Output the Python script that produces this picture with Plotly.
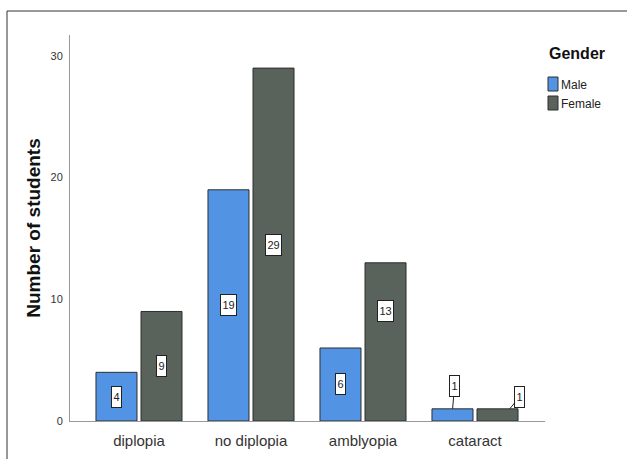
import plotly.graph_objects as go

# Survey counts by eye condition and gender
conditions = ["diplopia", "no diplopia", "amblyopia", "cataract"]
male_counts = [4, 19, 6, 1]
female_counts = [9, 29, 13, 1]
y_ticks = [0, 10, 20, 30]

MALE_COLOR = "#5393e3"
FEMALE_COLOR = "#5a625c"
EDGE = "#2e2e2e"
FONT = "Liberation Sans, Arial, sans-serif"

# plot area in pixels (for placing the frame and legend in paper units)
L, R, T, B = 70, 82, 35, 38
W, H = 627, 459
PW, PH = W - L - R, H - T - B


def px_x(px):
    return (px - L) / PW


def px_y(py):
    return (H - B - py) / PH


fig = go.Figure()
fig.add_trace(go.Bar(x=conditions, y=male_counts, name="Male",
                     marker=dict(color=MALE_COLOR, line=dict(color=EDGE, width=1))))
fig.add_trace(go.Bar(x=conditions, y=female_counts, name="Female",
                     marker=dict(color=FEMALE_COLOR, line=dict(color=EDGE, width=1))))

# value labels: boxed, centred in the bars; the tiny cataract bars get callouts
half_offset = 0.2
label_anchor = {("Female", 2): 9.0}
callouts = {("Male", 3): (2, -23), ("Female", 3): (10, -12)}
for name, counts, sign in (("Male", male_counts, -1), ("Female", female_counts, 1)):
    for i, v in enumerate(counts):
        txt = str(v)
        xc = i + sign * half_offset
        common = dict(text=txt, font=dict(family=FONT, size=11, color="#222"),
                      bgcolor="white", bordercolor="#222", borderwidth=1,
                      borderpad=1, width=6 * len(txt) + 1, height=18,
                      xref="x", yref="y")
        if (name, i) in callouts:
            ax, ay = callouts[(name, i)]
            tipx = xc + (0.11 if name == "Female" else 0.0)
            fig.add_annotation(x=tipx, y=v, showarrow=True, arrowhead=0,
                               arrowwidth=1, arrowcolor="#222",
                               ax=ax, ay=ay, **common)
        else:
            yc = label_anchor.get((name, i), v / 2)
            fig.add_annotation(x=xc, y=yc, showarrow=False, **common)

# outer frame (left and top edges visible)
fig.add_shape(type="line", xref="paper", yref="paper",
              x0=px_x(7), x1=px_x(640), y0=px_y(11), y1=px_y(11),
              line=dict(color="#333", width=1))
fig.add_shape(type="line", xref="paper", yref="paper",
              x0=px_x(7), x1=px_x(7), y0=px_y(11), y1=px_y(470),
              line=dict(color="#333", width=1))

# legend
fig.add_annotation(xref="paper", yref="paper", x=px_x(547), y=px_y(53),
                   xanchor="left", yanchor="middle", showarrow=False,
                   text="<b>Gender</b>",
                   font=dict(family=FONT, size=16, color="#111"))
for k, (lab, col) in enumerate((("Male", MALE_COLOR), ("Female", FEMALE_COLOR))):
    cy = 84 + 19 * k
    fig.add_shape(type="rect", xref="paper", yref="paper",
                  x0=px_x(548), x1=px_x(558), y0=px_y(cy - 7), y1=px_y(cy + 7),
                  fillcolor=col, line=dict(color=EDGE, width=1))
    fig.add_annotation(xref="paper", yref="paper", x=px_x(559), y=px_y(cy + 1),
                       xanchor="left", yanchor="middle", showarrow=False,
                       text=lab, font=dict(family=FONT, size=12, color="#222"))

fig.update_layout(
    width=W, height=H,
    margin=dict(l=L, r=R, t=T, b=B),
    paper_bgcolor="white", plot_bgcolor="white",
    barmode="group", bargap=0.196, bargroupgap=0.089,
    showlegend=False,
    font=dict(family=FONT),
    xaxis=dict(range=[-0.616, 3.625], showline=True, linecolor="#999",
               linewidth=1, ticks="", showgrid=False, zeroline=False,
               ticklabelstandoff=6, automargin=False,
               tickfont=dict(family=FONT, size=15, color="#333")),
    yaxis=dict(range=[0, 31.72], tickvals=y_ticks, showline=True,
               linecolor="#999", linewidth=1, ticks="", showgrid=False,
               zeroline=False, ticklabelstandoff=4, automargin=False,
               tickfont=dict(family=FONT, size=11, color="#333"),
               title=dict(text="<b>Number of students</b>", standoff=4,
                          font=dict(family=FONT, size=19, color="#111"))),
)

fig.write_html("out.html")
